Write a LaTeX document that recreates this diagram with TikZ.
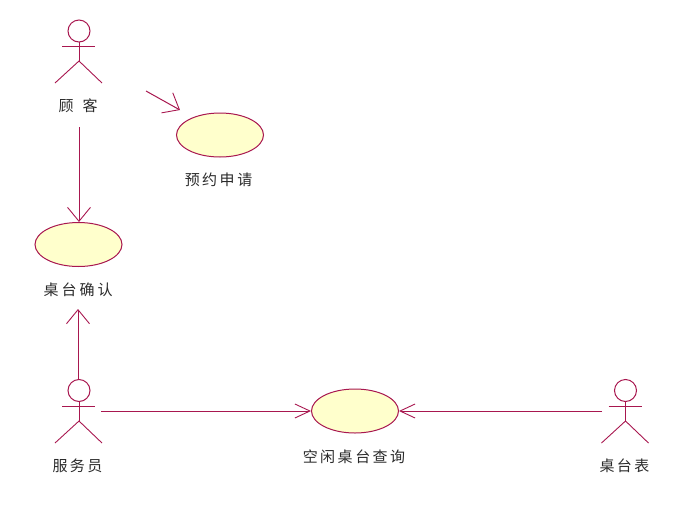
\documentclass[tikz,border=0pt]{standalone}
\usepackage{fontspec}
\setmainfont{Noto Sans CJK SC}
\usetikzlibrary{arrows.meta,shapes.geometric}
\definecolor{umlline}{HTML}{A8174F}
\definecolor{umlfill}{HTML}{FFFFCC}
\definecolor{umltext}{HTML}{2A2A2A}
\tikzset{
  usecase/.style={shape=ellipse,draw=umlline,fill=umlfill,line width=1pt,minimum width=87pt,minimum height=44pt,inner sep=0pt},
  actorhead/.style={shape=circle,draw=umlline,line width=1pt,minimum size=22pt,inner sep=0pt},
  stick/.style={draw=umlline,line width=0.9pt},
  lbl/.style={text=umltext,font=\fontsize{15pt}{15pt}\selectfont,inner sep=0pt},
  assoc/.style={draw=umlline,line width=1pt},
  tipwide/.style={-{Straight Barb[length=14pt,width=23pt,line width=0.9pt]}},
  tipnarrow/.style={-{Straight Barb[length=15pt,width=14pt,line width=0.9pt]}},
  pics/figure/.style={code={
    \draw[stick] (-17,15) -- (16,15);
    \draw[stick] (0,11) -- (0,30);
    \draw[stick] (-24,52) -- (0,30) -- (23,52);
  }}
}
\begin{document}
\begin{tikzpicture}[x=1pt,y=-1pt]
\useasboundingbox (0,0) rectangle (689,507);
% use cases
\node[usecase] (yuyue) at (220,135) {};
\node[usecase] (queren) at (78.5,244.5) {};
\node[usecase] (kongxian) at (355,411) {};
% actors
\node[actorhead] (guke) at (79,31) {};
\pic at (79,31) {figure};
\node[actorhead] (fuwu) at (79,390.5) {};
\pic at (79,391) {figure};
\node[actorhead] (biao) at (625.5,390.5) {};
\pic at (625.5,391) {figure};
% labels
\node[lbl] (lguke) at (78,105.5) {顾\kern9pt 客};
\node[lbl] (lyuyue) at (218.5,179.5) {预\kern2.5pt 约\kern2.5pt 申\kern2.5pt 请};
\node[lbl] (lqueren) at (78,289.5) {桌\kern3pt 台\kern3pt 确\kern3pt 认};
\node[lbl] (lfuwu) at (77.5,465.5) {服\kern2.5pt 务\kern2.5pt 员};
\node[lbl] (lkong) at (354,456.5) {空\kern2.5pt 闲\kern2.5pt 桌\kern2.5pt 台\kern2.5pt 查\kern2.5pt 询};
\node[lbl] (lbiao) at (624.5,465.5) {桌\kern2.5pt 台\kern2.5pt 表};
% free connector ends
\coordinate (s1) at (146,91);
\coordinate (e1) at (180,110);
\coordinate (s2) at (79,127);
\coordinate (s3) at (78,380);
\coordinate (e3) at (78,309);
\coordinate (s4) at (101,411);
\coordinate (s5) at (602,411);
% connectors
\draw[assoc,tipwide] (s1) -- (e1);
\draw[assoc,tipwide] (s2) -- (queren.north -| s2);
\draw[assoc,tipwide] (s3) -- (e3);
\draw[assoc,tipnarrow] (s4) -- (kongxian.west);
\draw[assoc,tipnarrow] (s5) -- (kongxian.east);
\end{tikzpicture}
\end{document}
